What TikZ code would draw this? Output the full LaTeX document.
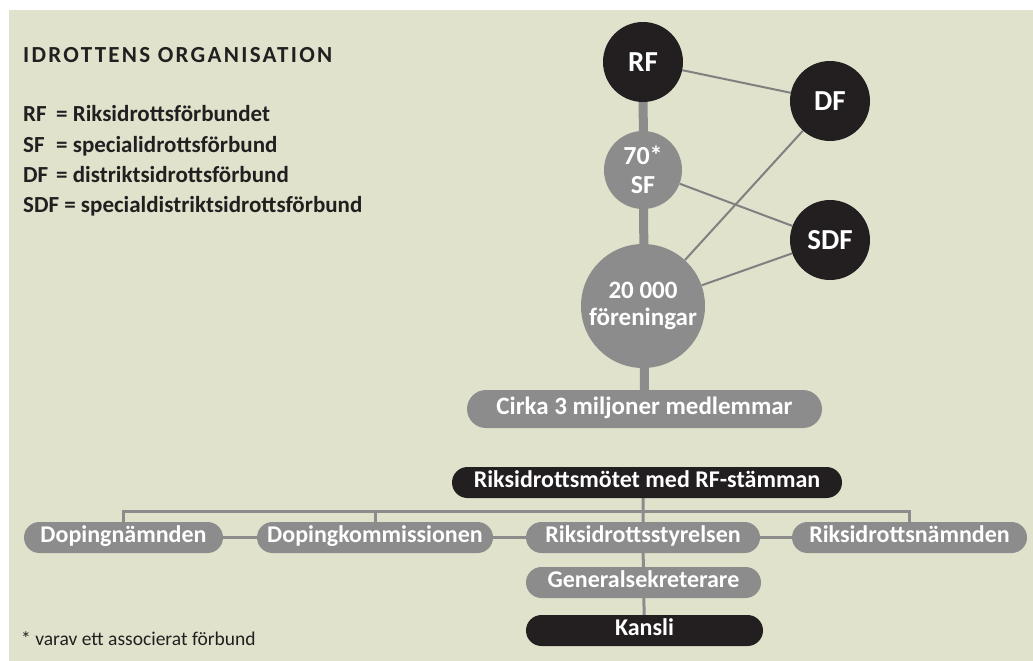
\documentclass[tikz,border=0pt]{standalone}
\usepackage{fontspec}
\setmainfont{Carlito}
\usepackage{xcolor}
\usepackage{tikz}
\usetikzlibrary{positioning,calc}

\definecolor{idrbeige}{RGB}{224,226,204}
\definecolor{idrblack}{RGB}{35,31,32}
\definecolor{idrgrey}{RGB}{140,140,140}
\definecolor{idrline}{RGB}{128,128,128}

\pgfdeclarelayer{paper}
\pgfdeclarelayer{wires}
\pgfsetlayers{paper,wires,main}

\begin{document}
\begin{tikzpicture}[x=1pt,y=-1pt,
    disc/.style={circle,fill=idrblack,text=white,inner sep=0pt,align=center,
        font=\fontsize{29}{29}\selectfont\bfseries},
    greydisc/.style={disc,fill=idrgrey},
    pill/.style={rounded corners=15.5pt,minimum height=31pt,text=white,inner sep=0pt,
        text height=15.5pt,text depth=5pt,font=\fontsize{24}{24}\selectfont\bfseries},
    greypill/.style={pill,fill=idrgrey},
    blackpill/.style={pill,fill=idrblack},
    stem/.style={idrgrey,line width=9pt},
    spoke/.style={idrline,line width=2pt},
    bus/.style={idrgrey,line width=3pt},
    legend/.style={anchor=base west,inner sep=0pt,text=idrblack,
        font=\fontsize{23}{23}\selectfont\bfseries}]
    \useasboundingbox (0,0) rectangle (1033,661);
    \begin{pgfonlayer}{paper}
        \fill[white] (0,0) rectangle (1033,661);
        \fill[idrbeige] (9,10) rectangle (1033,661);
    \end{pgfonlayer}

    % Legend
    \node[legend,font=\fontsize{23}{23}\selectfont\bfseries\addfontfeatures{LetterSpace=10}] (title) at (23,63) {IDROTTENS ORGANISATION};
    \node[legend] (lgRF) at (23,121) {\makebox[33pt][l]{RF}= Riksidrottsförbundet};
    \node[legend] (lgSF) at (23,152) {\makebox[33pt][l]{SF}= specialidrottsförbund};
    \node[legend] (lgDF) at (23,182) {\makebox[33pt][l]{DF}= distriktsidrottsförbund};
    \node[legend] (lgSDF) at (23,212) {SDF = specialdistriktsidrottsförbund};

    % Circles
    \node[disc,minimum size=80pt] (RF) at (643,62) {RF};
    \node[disc,minimum size=80pt] (DF) at (830,101) {DF};
    \node[greydisc,minimum size=78pt,font=\fontsize{26}{29}\selectfont\bfseries] (SF) at (643,170) {70*\\SF};
    \node[disc,minimum size=80pt] (SDF) at (830,240) {SDF};
    \node[greydisc,minimum size=124pt,font=\fontsize{25}{27}\selectfont\bfseries] (clubs) at (643,306) {20 000\\föreningar};
    \node[greypill,minimum width=355pt,minimum height=38pt,rounded corners=19pt,
        font=\fontsize{25}{25}\selectfont\bfseries] (members) at (644.5,409) {Cirka 3 miljoner medlemmar};

    \begin{pgfonlayer}{wires}
        \draw[stem] (RF) -- (members);
        \draw[spoke] (RF) -- (DF);
        \draw[spoke] (SF) -- (SDF);
        \draw[spoke] (clubs) -- (DF);
        \draw[spoke] (clubs) -- (SDF);
    \end{pgfonlayer}

    % Organisation chart
    \node[blackpill,minimum width=390pt] (rms) at (647,482.5) {Riksidrottsmötet med RF-stämman};
    \node[greypill,minimum width=199pt] (dn) at (123.5,537.5) {Dopingnämnden};
    \node[greypill,minimum width=236pt] (dk) at (375,537.5) {Dopingkommissionen};
    \node[greypill,minimum width=234pt] (rs) at (643,537.5) {Riksidrottsstyrelsen};
    \node[greypill,minimum width=235pt] (rn) at (909.5,537.5) {Riksidrottsnämnden};
    \node[greypill,minimum width=235pt] (gs) at (643.5,582.5) {Generalsekreterare};
    \node[blackpill,minimum width=237pt] (kansli) at (644.5,630.5) {Kansli};
    \coordinate (bus) at (0,511);

    \begin{pgfonlayer}{wires}
        \draw[bus] (dn) -- (dn.north |- bus) -- (rn.north |- bus) -- (rn);
        \draw[bus] (dk) -- (dk.north |- bus);
        \draw[bus] (rms.south -| rs.north) -- (rs) -- (gs) -- (kansli);
        \draw[bus] (dn) -- (dk) -- (rs) -- (rn);
    \end{pgfonlayer}

    % Footnote
    \node[legend,font=\fontsize{19.5}{19.5}\selectfont] (note) at (21,645) {* varav ett associerat förbund};
\end{tikzpicture}
\end{document}
